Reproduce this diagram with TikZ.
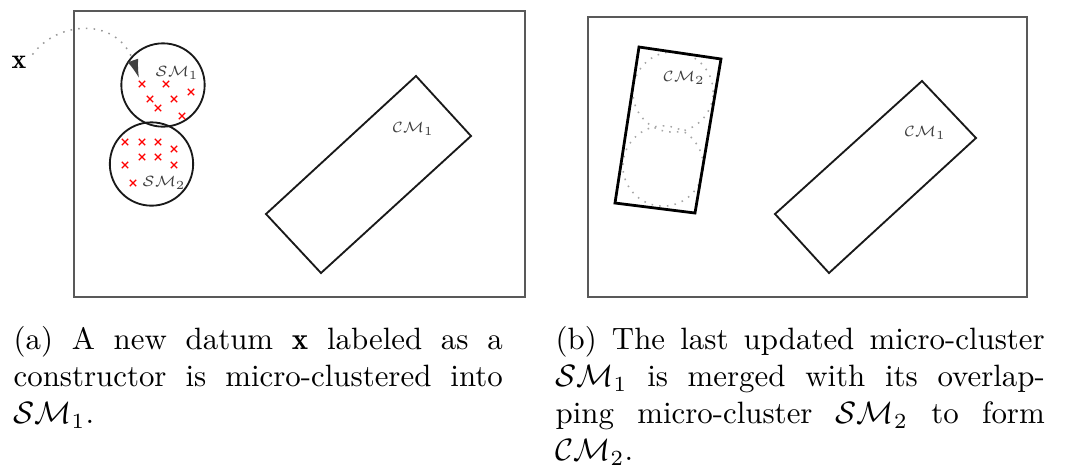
\documentclass[tikz,border=0pt]{standalone}
\usepackage{fontspec}
\usepackage{amsmath}
\usepackage{graphicx}
\usetikzlibrary{arrows.meta}
\newcommand{\lblsz}[1]{\scalebox{0.8}{$#1$}}
\begin{document}
\begin{tikzpicture}[x=0.324pt,y=-0.324pt,
  panelbox/.style={draw=black!65,line width=0.75pt},
  mcirc/.style={circle,draw=black!90,line width=0.6pt,inner sep=0pt,minimum size=27pt},
  ghostcirc/.style={circle,draw=black!35,dotted,line width=0.5pt,inner sep=0pt,minimum size=26pt},
  crect/.style={draw=black!90,line width=0.6pt,line join=miter},
  crecttwo/.style={draw=black,line width=0.9pt,line join=miter},
  smalllbl/.style={inner sep=0pt,text=black!75,font=\fontsize{6}{7}\selectfont},
  captext/.style={inner sep=0pt,anchor=north west,text width=158.5pt,align=justify,font=\fontsize{10}{12}\selectfont},
  xmark/.pic={\draw[red,line width=0.45pt] (-3.2,-3.2)--(3.2,3.2) (-3.2,3.2)--(3.2,-3.2);}
]
\useasboundingbox (0,0) rectangle (1072,475);

% ---------- panel (a) ----------
\draw[panelbox] (74,11) rectangle (525,297);
\node[mcirc] (sm1) at (163,85) {};
\node[mcirc] (sm2) at (151.5,164) {};
\node[smalllbl] (sm1l) at (177,73) {\lblsz{\mathcal{SM}_1}};
\node[smalllbl] (sm2l) at (164,183) {\lblsz{\mathcal{SM}_2}};
\foreach \p in {(142,84),(166,84),(191,92),(150,99),(174,99),(158,108),(182,116),
                (125,142),(142,142),(158,142),(174,149),(142,157),(158,157),(125,165),(174,165),(133,183)}
  \pic at \p {xmark};
\node[inner sep=0pt,font=\fontsize{9}{10}\selectfont] (xl) at (19,62) {$\mathbf{x}$};
\coordinate (xtip) at (139,78);
\draw[draw=black!40,dotted,line width=0.5pt,shorten <=3pt,
      -{Latex[length=6pt,width=3.6pt,color=black!75]}]
  (xl.east) .. controls (58,20) and (118,17) .. (xtip);
\draw[crect] (416,76) -- (471,136) -- (321,273) -- (266,214) -- cycle;
\node[smalllbl] (cm1a) at (413,129) {\lblsz{\mathcal{CM}_1}};

% ---------- panel (b) ----------
\draw[panelbox] (588,17) rectangle (1027,297);
\node[ghostcirc] (g1) at (673,92) {};
\node[ghostcirc] (g2) at (663,166) {};
\draw[crecttwo] (639,47) -- (721,59) -- (695,213) -- (615,203) -- cycle;
\node[smalllbl] (cm2) at (684,78) {\lblsz{\mathcal{CM}_2}};
\draw[crect] (922,81) -- (976,138) -- (829,273) -- (775,214) -- cycle;
\node[smalllbl] (cm1b) at (925,133) {\lblsz{\mathcal{CM}_1}};

% ---------- captions ----------
\node[captext] (capa) at (13,326) {(a) A new datum $\mathbf{x}$ labeled as a\linebreak
 constructor is micro-clustered into\linebreak $\mathcal{SM}_1$.};
\node[captext] (capb) at (555,326) {(b) The last updated micro-cluster\linebreak
 $\mathcal{SM}_1$ is merged with its overlap-\linebreak
 ping micro-cluster $\mathcal{SM}_2$ to form\linebreak $\mathcal{CM}_2$.};
\end{tikzpicture}
\end{document}
